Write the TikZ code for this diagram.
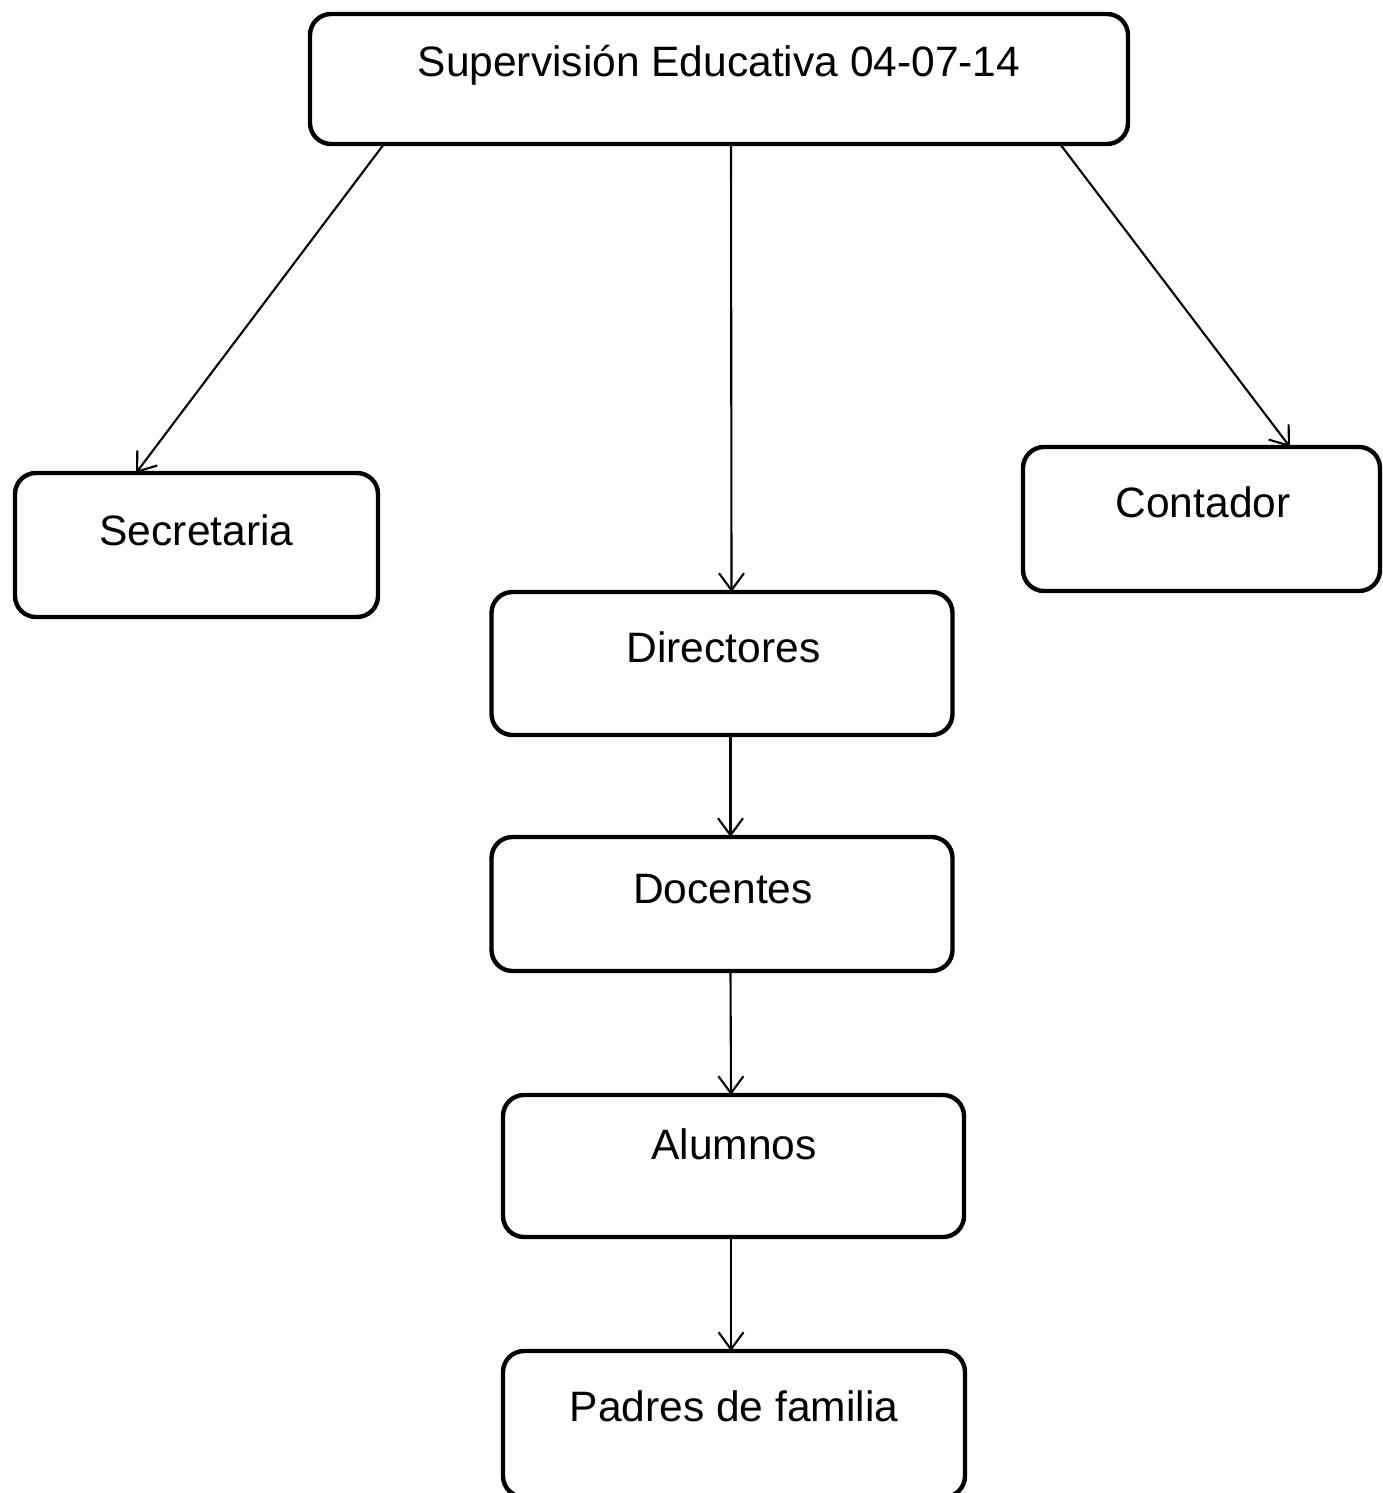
\documentclass[tikz,border=0pt]{standalone}
\usepackage{fontspec}
\setmainfont{Liberation Sans}
\usetikzlibrary{arrows.meta,calc}
\begin{document}
\begin{tikzpicture}[x=0.02cm,y=-0.02cm,
  box/.style={draw, line width=2.5pt, rounded corners=0.42cm, inner sep=0pt, outer sep=0pt},
  lbl/.style={anchor=base, inner sep=0pt, font=\fontsize{24.2}{29}\selectfont},
  arr/.style={line width=1.2pt, -{Straight Barb[length=0.34cm, width=0.5cm, line width=1.2pt]}}]
\useasboundingbox (0,0) rectangle (1382,1493);
% boxes (given by their corners in pixels)
\node[box, minimum width=818*0.02cm, minimum height=130*0.02cm] (top) at (719,79) {};
\node[box, minimum width=363*0.02cm, minimum height=144*0.02cm] (sec) at (196.5,545) {};
\node[box, minimum width=357*0.02cm, minimum height=144*0.02cm] (con) at (1201.5,519) {};
\node[box, minimum width=461*0.02cm, minimum height=143*0.02cm] (dir) at (722,663.5) {};
\node[box, minimum width=461*0.02cm, minimum height=134*0.02cm] (doc) at (722,904) {};
\node[box, minimum width=461*0.02cm, minimum height=142*0.02cm] (alu) at (733.5,1166) {};
\node[box, minimum width=462*0.02cm, minimum height=146*0.02cm] (pad) at (734,1424) {};
% labels
\node[lbl] (ttop) at (719,77) {Supervisión Educativa 04-07-14};
\node[lbl] (tsec) at (196.5,545) {Secretaria};
\node[lbl] (tcon) at (1203,517) {Contador};
\node[lbl] (tdir) at (723.5,662) {Directores};
\node[lbl] (tdoc) at (723,903) {Docentes};
\node[lbl] (talu) at (734,1159) {Alumnos};
\node[lbl] (tpad) at (734,1421) {Padres de familia};
% connectors
\draw[arr] ($(top.south west)+(74,0)$) -- ($(sec.north west)+(121,0)$);
\draw[arr] ($(top.south west)+(421,0)$) -- ($(dir.north west)+(240,0)$);
\draw[arr] ($(top.south west)+(750,0)$) -- ($(con.north west)+(267,0)$);
\draw[arr] ($(dir.south west)+(239,0)$) -- ($(doc.north west)+(239,0)$);
\draw[arr] ($(doc.south west)+(239,0)$) -- ($(alu.north west)+(228,0)$);
\draw[arr] ($(alu.south west)+(228,0)$) -- ($(pad.north west)+(228,0)$);
\end{tikzpicture}
\end{document}
